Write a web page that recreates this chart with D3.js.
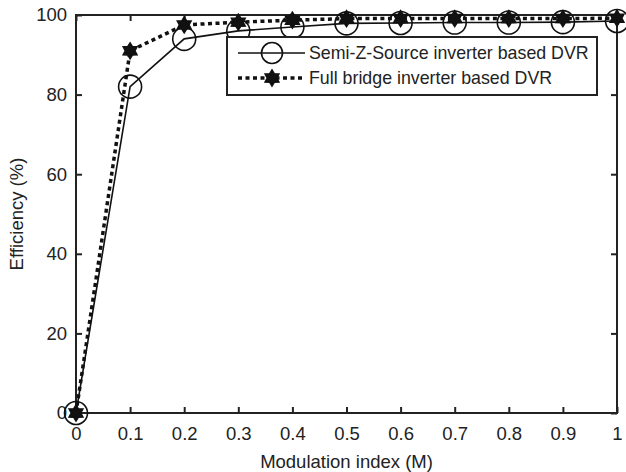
<!DOCTYPE html>
<html>
<head>
<meta charset="utf-8">
<script src="https://cdn.jsdelivr.net/npm/d3@7"></script>
<style>
  body { margin: 0; background: #fff; }
  text { font-family: "Liberation Sans", Arial, sans-serif; fill: #222; }
</style>
</head>
<body>
<script>
// data
const mIndex = [0, 0.1, 0.2, 0.3, 0.4, 0.5, 0.6, 0.7, 0.8, 0.9, 1];
const semiZ = [0, 82, 94, 96, 97, 97.9, 98, 98.1, 98.1, 98.2, 98.5];
const fullBridge = [0, 91, 97.5, 98.2, 98.7, 99.1, 99.1, 99.1, 99.1, 99.1, 99.2];
const xTicks = [0, 0.1, 0.2, 0.3, 0.4, 0.5, 0.6, 0.7, 0.8, 0.9, 1];
const yTicks = [0, 20, 40, 60, 80, 100];
const seriesNames = ["Semi-Z-Source inverter based DVR", "Full bridge inverter based DVR"];

const width = 626, height = 472;
const margin = {left: 76, right: 9, top: 15, bottom: 59};

const svg = d3.select("body").append("svg")
  .attr("width", width)
  .attr("height", height);

const x = d3.scaleLinear().domain([0, 1]).range([margin.left, width - margin.right]);
const y = d3.scaleLinear().domain([0, 100]).range([height - margin.bottom, margin.top]);

// six pointed star like matlab hexagram
function hexagram(cx, cy, r) {
  let pts = [];
  for (let i = 0; i < 12; i++) {
    let a = -Math.PI / 2 + i * Math.PI / 6;
    let rr = i % 2 == 0 ? r : r * 0.6;
    pts.push([cx + rr * Math.cos(a), cy + rr * Math.sin(a)]);
  }
  return "M" + pts.map(p => p.join(",")).join("L") + "Z";
}

// axes (box with inward ticks)
const tickLen = 6;
const axisStyle = g => {
  g.select(".domain").remove();
  g.selectAll(".tick line").attr("stroke", "#222").attr("stroke-width", 2);
  g.selectAll(".tick text").style("font-size", "18.5px").attr("fill", "#222");
};

svg.append("g")
  .attr("transform", "translate(0," + y(0) + ")")
  .call(d3.axisBottom(x).tickValues(xTicks).tickSizeInner(-tickLen).tickSizeOuter(0).tickPadding(14)
    .tickFormat(d => d == 0 || d == 1 ? d3.format("d")(d) : d3.format(".1f")(d)))
  .call(axisStyle);

svg.append("g")
  .attr("transform", "translate(0," + y(100) + ")")
  .call(d3.axisTop(x).tickValues(xTicks).tickSizeInner(-tickLen).tickSizeOuter(0).tickFormat(""))
  .call(axisStyle);

svg.append("g")
  .attr("transform", "translate(" + x(0) + ",0)")
  .call(d3.axisLeft(y).tickValues(yTicks).tickSizeInner(-tickLen).tickSizeOuter(0).tickPadding(9))
  .call(axisStyle);

svg.append("g")
  .attr("transform", "translate(" + x(1) + ",0)")
  .call(d3.axisRight(y).tickValues(yTicks).tickSizeInner(-tickLen).tickSizeOuter(0).tickFormat(""))
  .call(axisStyle);

svg.append("rect")
  .attr("x", x(0)).attr("y", y(100))
  .attr("width", x(1) - x(0)).attr("height", y(0) - y(100))
  .attr("fill", "none").attr("stroke", "#222").attr("stroke-width", 2);

// axis labels
svg.append("text")
  .attr("x", (x(0) + x(1)) / 2)
  .attr("y", 468)
  .attr("text-anchor", "middle")
  .style("font-size", "18.5px")
  .text("Modulation index (M)");

svg.append("text")
  .attr("transform", "translate(23," + (y(50)) + ")rotate(-90)")
  .attr("text-anchor", "middle")
  .style("font-size", "18.5px")
  .text("Efficiency (%)");

// series lines
let line = d3.line().x(d => x(d[0])).y(d => y(d[1]));
let semiPts = mIndex.map((m, i) => [m, semiZ[i]]);
let fullPts = mIndex.map((m, i) => [m, fullBridge[i]]);

svg.append("path")
  .datum(semiPts)
  .attr("d", line)
  .attr("fill", "none")
  .attr("stroke", "#111")
  .attr("stroke-width", 1.6);

svg.selectAll(".circ")
  .data(semiPts)
  .enter()
  .append("circle")
  .attr("class", "circ")
  .attr("cx", d => x(d[0]))
  .attr("cy", d => y(d[1]))
  .attr("r", 11.5)
  .attr("fill", "none")
  .attr("stroke", "#111")
  .attr("stroke-width", 1.6);

svg.append("path")
  .datum(fullPts)
  .attr("d", line)
  .attr("fill", "none")
  .attr("stroke", "#111")
  .attr("stroke-width", 3.5)
  .attr("stroke-dasharray", "4,3.5");

svg.selectAll(".star")
  .data(fullPts)
  .enter()
  .append("path")
  .attr("class", "star")
  .attr("d", d => hexagram(x(d[0]), y(d[1]), 8))
  .attr("fill", "#111")
  .attr("stroke", "#111")
  .attr("stroke-width", 1.5);

// legend
let legend = svg.append("g");
legend.append("rect")
  .attr("x", 227).attr("y", 37)
  .attr("width", 370).attr("height", 58)
  .attr("fill", "#fff").attr("stroke", "#222").attr("stroke-width", 2);

let rows = [53, 78];
legend.append("line")
  .attr("x1", 238).attr("x2", 305).attr("y1", rows[0]).attr("y2", rows[0])
  .attr("stroke", "#111").attr("stroke-width", 1.6);
legend.append("circle")
  .attr("cx", 272).attr("cy", rows[0]).attr("r", 10.5)
  .attr("fill", "none").attr("stroke", "#111").attr("stroke-width", 1.6);
legend.append("line")
  .attr("x1", 238).attr("x2", 305).attr("y1", rows[1]).attr("y2", rows[1])
  .attr("stroke", "#111").attr("stroke-width", 3.5).attr("stroke-dasharray", "4,3.5");
legend.append("path")
  .attr("d", hexagram(272, rows[1], 8))
  .attr("fill", "#111").attr("stroke", "#111").attr("stroke-width", 1.5);

legend.selectAll(".ltext")
  .data(seriesNames)
  .enter()
  .append("text")
  .attr("class", "ltext")
  .attr("x", 309)
  .attr("y", (d, i) => rows[i])
  .attr("dy", "0.35em")
  .style("font-size", "17.8px")
  .text(d => d);
</script>
</body>
</html>
